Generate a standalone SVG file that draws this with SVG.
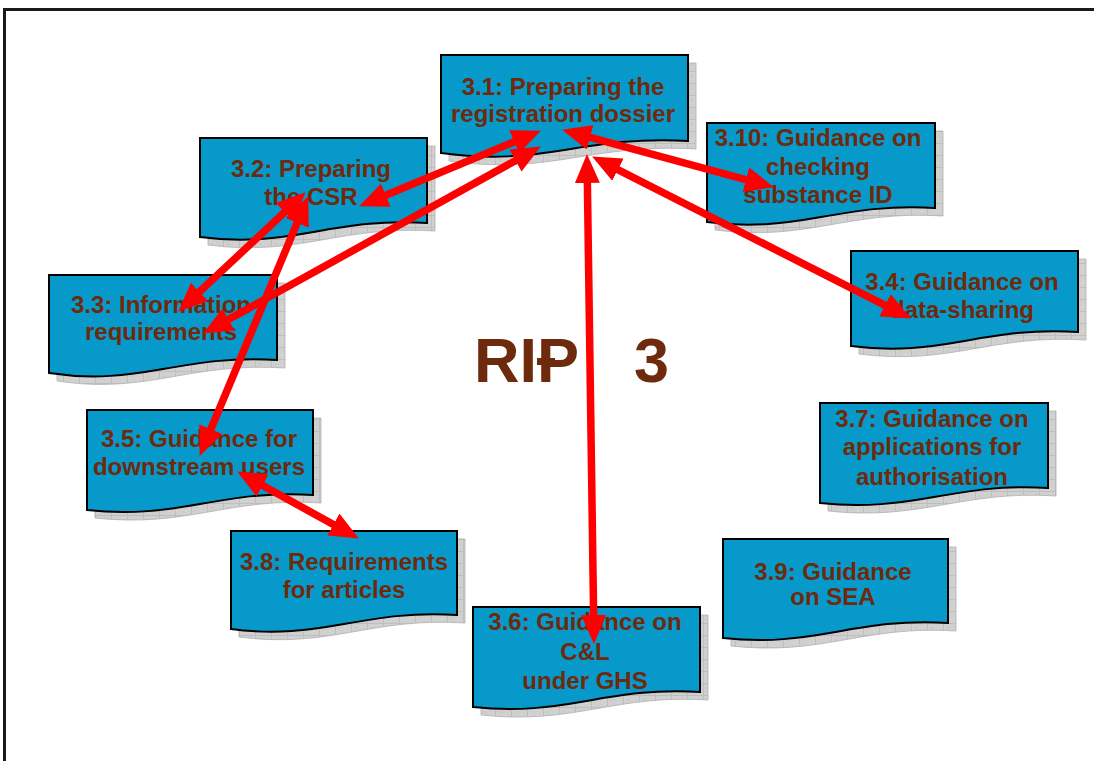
<svg xmlns="http://www.w3.org/2000/svg" width="1094" height="761" viewBox="0 0 1094 761">
<defs>
<pattern id="tex" width="16" height="12" patternUnits="userSpaceOnUse">
<rect width="16" height="12" fill="#d0d0d0"/>
<path d="M0,11.5 H16 M15.5,0 V12" stroke="#bebebe" stroke-width="1"/>
<circle cx="4" cy="4" r="0.8" fill="#bdbdbd"/>
<circle cx="10" cy="7" r="0.8" fill="#dedede"/>
</pattern>
<marker id="ah" viewBox="0 0 29 25" refX="19" refY="12.5" markerWidth="29" markerHeight="25" markerUnits="userSpaceOnUse" orient="auto-start-reverse">
<path d="M0,0 L29,12.5 L0,25 Z" fill="#ff0000"/>
</marker>
</defs>
<style>
.sh{fill:url(#tex);stroke:#b0b0b0;stroke-width:0.8}
.bx{fill:#0799c9;stroke:#000;stroke-width:2}
.t{font-family:"Liberation Sans",Arial,sans-serif;font-weight:bold;font-size:24px;fill:#6e2a0c;text-anchor:middle}
.big{font-family:"Liberation Sans",Arial,sans-serif;font-weight:bold;font-size:63px;fill:#6e2a0c}
.ar{stroke:#ff0000;stroke-width:7.5;fill:none;marker-start:url(#ah);marker-end:url(#ah)}
</style>
<rect x="0" y="0" width="1094" height="761" fill="#ffffff"/>
<rect x="4.5" y="9.5" width="1200" height="800" fill="none" stroke="#1a1a1a" stroke-width="3"/>

<g id="n31">
<path class="sh" d="M449,63 H696 V149 C646.6,146 609.6,152 572.5,158 S498.4,168 449,161 Z"/>
<path class="bx" d="M441,55 H688 V141 C638.6,138 601.6,144 564.5,150 S490.4,160 441,153 Z"/>
<text class="t" x="563" y="95">3.1: Preparing the</text>
<text class="t" x="563" y="122">registration dossier</text>
</g>

<g id="n32">
<path class="sh" d="M208,146 H435 V231 C389.6,228 355.6,234 321.5,240 S253.4,251 208,245 Z"/>
<path class="bx" d="M200,138 H427 V223 C381.6,220 347.6,226 313.5,232 S245.4,243 200,237 Z"/>
<text class="t" x="311" y="177">3.2: Preparing</text>
<text class="t" x="311" y="205">the CSR</text>
</g>

<g id="n310">
<path class="sh" d="M715,131 H943 V216 C897.4,213 863.2,219 829,225 S760.6,236 715,230 Z"/>
<path class="bx" d="M707,123 H935 V208 C889.4,205 855.2,211 821,217 S752.6,228 707,222 Z"/>
<text class="t" x="818" y="146">3.10: Guidance on</text>
<text class="t" x="818" y="175">checking</text>
<text class="t" x="818" y="203">substance ID</text>
</g>

<g id="n34">
<path class="sh" d="M859,259 H1086 V340 C1040.6,337 1006.6,343 972.5,349 S904.4,360 859,354 Z"/>
<path class="bx" d="M851,251 H1078 V332 C1032.6,329 998.6,335 964.5,341 S896.4,352 851,346 Z"/>
<text class="t" x="962" y="290">3.4: Guidance on</text>
<text class="t" x="962" y="318">data-sharing</text>
</g>

<g id="n33">
<path class="sh" d="M57,283 H285 V368 C239.4,365 205.2,371 171,377 S102.6,388 57,381 Z"/>
<path class="bx" d="M49,275 H277 V360 C231.4,357 197.2,363 163,369 S94.6,380 49,373 Z"/>
<text class="t" x="161" y="313">3.3: Information</text>
<text class="t" x="161" y="340">requirements</text>
</g>

<g id="n35">
<path class="sh" d="M95,418 H321 V503 C275.8,500 241.9,506 208,512 S140.2,523 95,518 Z"/>
<path class="bx" d="M87,410 H313 V495 C267.8,492 233.9,498 200,504 S132.2,515 87,510 Z"/>
<text class="t" x="199" y="447">3.5: Guidance for</text>
<text class="t" x="199" y="475">downstream users</text>
</g>

<g id="n37">
<path class="sh" d="M828,411 H1056 V496 C1010.4,493 976.2,499 942,505 S873.6,516 828,511 Z"/>
<path class="bx" d="M820,403 H1048 V488 C1002.4,485 968.2,491 934,497 S865.6,508 820,503 Z"/>
<text class="t" x="932" y="427">3.7: Guidance on</text>
<text class="t" x="932" y="455">applications for</text>
<text class="t" x="932" y="485">authorisation</text>
</g>

<g id="n38">
<path class="sh" d="M239,539 H465 V623 C419.8,620 385.9,626 352,632 S284.2,643 239,637 Z"/>
<path class="bx" d="M231,531 H457 V615 C411.8,612 377.9,618 344,624 S276.2,635 231,629 Z"/>
<text class="t" x="344" y="570">3.8: Requirements</text>
<text class="t" x="344" y="598">for articles</text>
</g>

<g id="n39">
<path class="sh" d="M731,547 H956 V631 C911,628 877.3,634 843.5,640 S776,651 731,646 Z"/>
<path class="bx" d="M723,539 H948 V623 C903,620 869.3,626 835.5,632 S768,643 723,638 Z"/>
<text class="t" x="833" y="580">3.9: Guidance</text>
<text class="t" x="833" y="605">on SEA</text>
</g>

<g id="n36">
<path class="sh" d="M481,615 H708 V700 C662.6,697 628.6,703 594.5,709 S526.4,720 481,715 Z"/>
<path class="bx" d="M473,607 H700 V692 C654.6,689 620.6,695 586.5,701 S518.4,712 473,707 Z"/>
<text class="t" x="585" y="630">3.6: Guidance on</text>
<text class="t" x="585" y="660">C&amp;L</text>
<text class="t" x="585" y="689">under GHS</text>
</g>

<g id="title">
<text class="big" x="474" y="382">RIP</text>
<text class="big" x="634" y="382">3</text>
<rect x="537" y="358" width="18" height="7" fill="#6e2a0c"/>
</g>

<g id="connectors">
<line class="ar" x1="531.7" y1="134.5" x2="368.3" y2="202.5"/>
<line class="ar" x1="532.1" y1="151.4" x2="211.9" y2="328.6"/>
<line class="ar" x1="298.4" y1="199.2" x2="185.6" y2="304.8"/>
<line class="ar" x1="304.5" y1="205.3" x2="203.5" y2="446.7"/>
<line class="ar" x1="245.9" y1="476.3" x2="350.1" y2="533.7"/>
<line class="ar" x1="587.1" y1="164" x2="593.9" y2="634"/>
<line class="ar" x1="571.7" y1="132.4" x2="764.3" y2="184.6"/>
<line class="ar" x1="601" y1="161.1" x2="902" y2="313.9"/>
</g>
</svg>
